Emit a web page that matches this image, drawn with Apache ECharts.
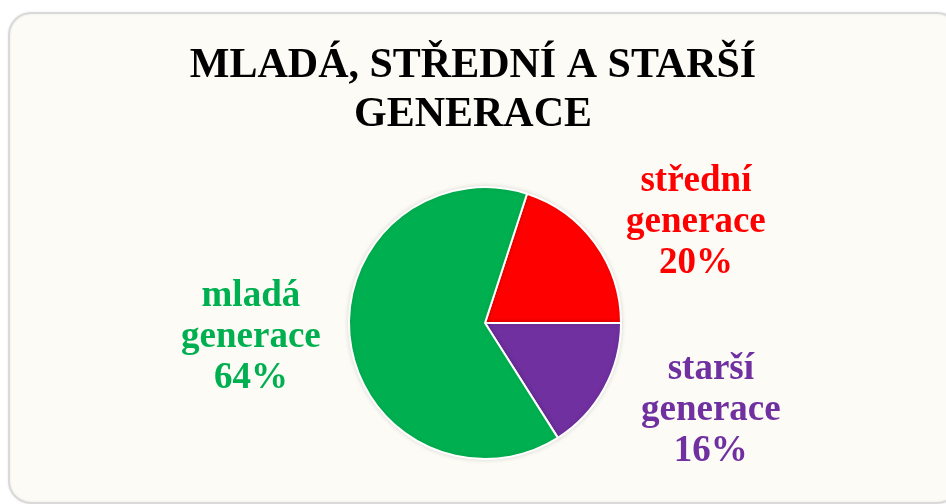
<!DOCTYPE html>
<html lang="cs" style="height: 100%">
<head>
    <meta charset="utf-8">
    <script src="https://cdn.jsdelivr.net/npm/echarts@6/dist/echarts.min.js"></script>
</head>
<body style="height: 100%; margin: 0; background: #ffffff">
    <div id="container" style="width: 946px; height: 504px"></div>
    <script type="text/javascript">
        // data
        const categories = ['střední generace', 'starší generace', 'mladá generace'];
        const shares = [20, 16, 64];
        const colors = ['#FF0000', '#7030A0', '#00B050'];

        const dom = document.getElementById('container');
        const myChart = echarts.init(dom, null, { renderer: 'canvas' });

        const startAngle = 72;
        const center = ['51.27%', '64.1%'];
        const radius = 136;
        const labelRadius = 236;
        // small hand nudges, like Excel's best-fit labels
        const labelNudge = [[20, 38], [19, -26], [0, -15]];

        const total = shares.reduce((a, b) => a + b, 0);

        function midAngle(i) {
            let before = 0;
            for (let k = 0; k < i; k++) before += shares[k];
            let a = startAngle - (before + shares[i] / 2) / total * 360;
            return a * Math.PI / 180;
        }

        const pieData = categories.map((name, i) => ({
            name: name,
            value: shares[i],
            itemStyle: { color: colors[i] },
            label: { color: colors[i] }
        }));

        const option = {
            backgroundColor: 'transparent',
            graphic: [{
                type: 'rect',
                z: -10,
                shape: { x: 9, y: 13, width: 950, height: 490, r: 22 },
                style: {
                    fill: '#FCFBF6',
                    stroke: '#D9D9D9',
                    lineWidth: 2,
                    shadowBlur: 3,
                    shadowColor: 'rgba(0,0,0,0.08)'
                }
            }],
            title: {
                text: 'MLADÁ, STŘEDNÍ A STARŠÍ\nGENERACE',
                left: 'center',
                top: 37,
                textStyle: {
                    fontFamily: 'Liberation Serif',
                    fontWeight: 'bold',
                    fontSize: 42,
                    lineHeight: 49,
                    color: '#000000'
                }
            },
            series: [{
                type: 'pie',
                center: center,
                radius: radius,
                startAngle: startAngle,
                clockwise: true,
                animation: false,
                data: pieData,
                itemStyle: {
                    borderColor: '#ffffff',
                    borderWidth: 2,
                    shadowBlur: 5,
                    shadowColor: 'rgba(0,0,0,0.12)'
                },
                label: {
                    show: true,
                    position: 'outside',
                    fontFamily: 'Liberation Serif',
                    fontWeight: 'bold',
                    fontSize: 37,
                    lineHeight: 41,
                    align: 'center',
                    formatter: (p) => p.name.replace(' ', '\n') + '\n' + p.value + '%'
                },
                labelLine: { show: false },
                emphasis: { disabled: true },
                labelLayout: (p) => {
                    const i = p.dataIndex;
                    const cx = myChart.getWidth() * parseFloat(center[0]) / 100;
                    const cy = myChart.getHeight() * parseFloat(center[1]) / 100;
                    const a = midAngle(i);
                    return {
                        x: cx + labelRadius * Math.cos(a) + labelNudge[i][0],
                        y: cy - labelRadius * Math.sin(a) + labelNudge[i][1],
                        align: 'center',
                        verticalAlign: 'middle'
                    };
                }
            }]
        };

        myChart.setOption(option);
        window.addEventListener('resize', myChart.resize);
    </script>
</body>
</html>
